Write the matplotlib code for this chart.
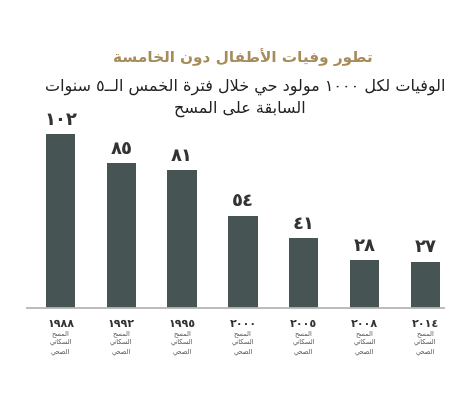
import re
import matplotlib
matplotlib.use("Agg")
import matplotlib.pyplot as plt

# ---------------- data ----------------
years = ["1988", "1992", "1995", "2000", "2005", "2008", "2014"]
values = [102, 85, 81, 54, 41, 28, 27]
survey_label = "المسح\nالسكاني\nالصحي"
title = "تطور وفيات الأطفال دون الخامسة"
subtitle_line1 = "الوفيات لكل ١٠٠٠ مولود حي خلال فترة الخمس الــ٥ سنوات"
subtitle_line2 = "السابقة على المسح"

# ---------------- Arabic shaping helpers ----------------
FORMS = {
    'ء': (0xFE80, None, None, None),
    'آ': (0xFE81, 0xFE82, None, None),
    'أ': (0xFE83, 0xFE84, None, None),
    'ؤ': (0xFE85, 0xFE86, None, None),
    'إ': (0xFE87, 0xFE88, None, None),
    'ئ': (0xFE89, 0xFE8A, 0xFE8B, 0xFE8C),
    'ا': (0xFE8D, 0xFE8E, None, None),
    'ب': (0xFE8F, 0xFE90, 0xFE91, 0xFE92),
    'ة': (0xFE93, 0xFE94, None, None),
    'ت': (0xFE95, 0xFE96, 0xFE97, 0xFE98),
    'ث': (0xFE99, 0xFE9A, 0xFE9B, 0xFE9C),
    'ج': (0xFE9D, 0xFE9E, 0xFE9F, 0xFEA0),
    'ح': (0xFEA1, 0xFEA2, 0xFEA3, 0xFEA4),
    'خ': (0xFEA5, 0xFEA6, 0xFEA7, 0xFEA8),
    'د': (0xFEA9, 0xFEAA, None, None),
    'ذ': (0xFEAB, 0xFEAC, None, None),
    'ر': (0xFEAD, 0xFEAE, None, None),
    'ز': (0xFEAF, 0xFEB0, None, None),
    'س': (0xFEB1, 0xFEB2, 0xFEB3, 0xFEB4),
    'ش': (0xFEB5, 0xFEB6, 0xFEB7, 0xFEB8),
    'ص': (0xFEB9, 0xFEBA, 0xFEBB, 0xFEBC),
    'ض': (0xFEBD, 0xFEBE, 0xFEBF, 0xFEC0),
    'ط': (0xFEC1, 0xFEC2, 0xFEC3, 0xFEC4),
    'ظ': (0xFEC5, 0xFEC6, 0xFEC7, 0xFEC8),
    'ع': (0xFEC9, 0xFECA, 0xFECB, 0xFECC),
    'غ': (0xFECD, 0xFECE, 0xFECF, 0xFED0),
    'ف': (0xFED1, 0xFED2, 0xFED3, 0xFED4),
    'ق': (0xFED5, 0xFED6, 0xFED7, 0xFED8),
    'ك': (0xFED9, 0xFEDA, 0xFEDB, 0xFEDC),
    'ل': (0xFEDD, 0xFEDE, 0xFEDF, 0xFEE0),
    'م': (0xFEE1, 0xFEE2, 0xFEE3, 0xFEE4),
    'ن': (0xFEE5, 0xFEE6, 0xFEE7, 0xFEE8),
    'ه': (0xFEE9, 0xFEEA, 0xFEEB, 0xFEEC),
    'و': (0xFEED, 0xFEEE, None, None),
    'ى': (0xFEEF, 0xFEF0, None, None),
    'ي': (0xFEF1, 0xFEF2, 0xFEF3, 0xFEF4),
}
LAMALEF = {'آ': (0xFEF5, 0xFEF6), 'أ': (0xFEF7, 0xFEF8),
           'إ': (0xFEF9, 0xFEFA), 'ا': (0xFEFB, 0xFEFC)}
TATWEEL = 'ـ'


def _joins_next(c):
    return c == TATWEEL or (c in FORMS and FORMS[c][2] is not None)


def _joins_prev(c):
    return c == TATWEEL or (c in FORMS and FORMS[c][1] is not None)


def _shape(text):
    out = []
    n = len(text)
    i = 0
    while i < n:
        c = text[i]
        prev = text[i - 1] if i > 0 else None
        conn_prev = prev is not None and _joins_next(prev) and _joins_prev(c)
        if c == 'ل' and i + 1 < n and text[i + 1] in LAMALEF:
            iso, fin = LAMALEF[text[i + 1]]
            out.append(chr(fin if conn_prev else iso))
            i += 2
            continue
        if c not in FORMS:
            out.append(c)
            i += 1
            continue
        nxt = text[i + 1] if i + 1 < n else None
        conn_next = nxt is not None and _joins_next(c) and _joins_prev(nxt)
        iso, fin, ini, med = FORMS[c]
        if conn_prev and conn_next:
            f = med
        elif conn_prev:
            f = fin
        elif conn_next:
            f = ini
        else:
            f = iso
        out.append(chr(f))
        i += 1
    return ''.join(out)


def ar(text):
    lines = []
    for line in text.split('\n'):
        s = _shape(line)[::-1]
        s = re.sub(r'[0-9\u0660-\u0669]+', lambda m: m.group(0)[::-1], s)
        lines.append(s)
    return '\n'.join(lines)


def indic(s):
    return str(s).translate(str.maketrans('0123456789', '٠١٢٣٤٥٦٧٨٩'))


# ---------------- figure ----------------
plt.rcParams['font.family'] = ['DejaVu Sans']
W, H = 459, 401
fig = plt.figure(figsize=(W / 100, H / 100), dpi=100)
fig.patch.set_facecolor('white')

left_px, right_px, bottom_px, top_px = 27, 444, 308, 100
ax = fig.add_axes([left_px / W, (H - bottom_px) / H,
                   (right_px - left_px) / W, (bottom_px - top_px) / H])

x = list(range(len(values)))
bar_color = '#465453'
bars = ax.bar(x, values, width=0.485, color=bar_color, zorder=2)

ax.set_xlim(-0.551, 6.308)
ax.set_ylim(0, (bottom_px - top_px) / 1.703)

for s in ['top', 'right', 'left']:
    ax.spines[s].set_visible(False)
ax.spines['bottom'].set_color('#b5b5b5')
ax.spines['bottom'].set_linewidth(1.3)
ax.set_yticks([])
ax.set_xticks(x, [indic(y) for y in years], fontsize=8, fontweight='bold',
              color='#333333')
ax.tick_params(axis='x', length=0, pad=8)

ax.bar_label(bars, labels=[indic(v) for v in values], padding=4,
             fontsize=13, fontweight='bold', color='#333333')

for xi in x:
    ax.annotate(ar(survey_label), xy=(xi, 0), xycoords=('data', 'axes fraction'),
                xytext=(0, -16), textcoords='offset points',
                ha='center', va='top', fontsize=4.8, color='#555555',
                linespacing=1.45)

fig.text(243 / W, 1 - 57 / H, ar(title), ha='center', va='center',
         fontsize=11, fontweight='bold', color='#a68c5a')
fig.text(245 / W, 1 - 87 / H, ar(subtitle_line1), ha='center', va='center',
         fontsize=11.5, color='#222222')
fig.text(240 / W, 1 - 109 / H, ar(subtitle_line2), ha='center', va='center',
         fontsize=11.5, color='#222222')

fig.savefig('out.png', dpi=100, facecolor='white')
